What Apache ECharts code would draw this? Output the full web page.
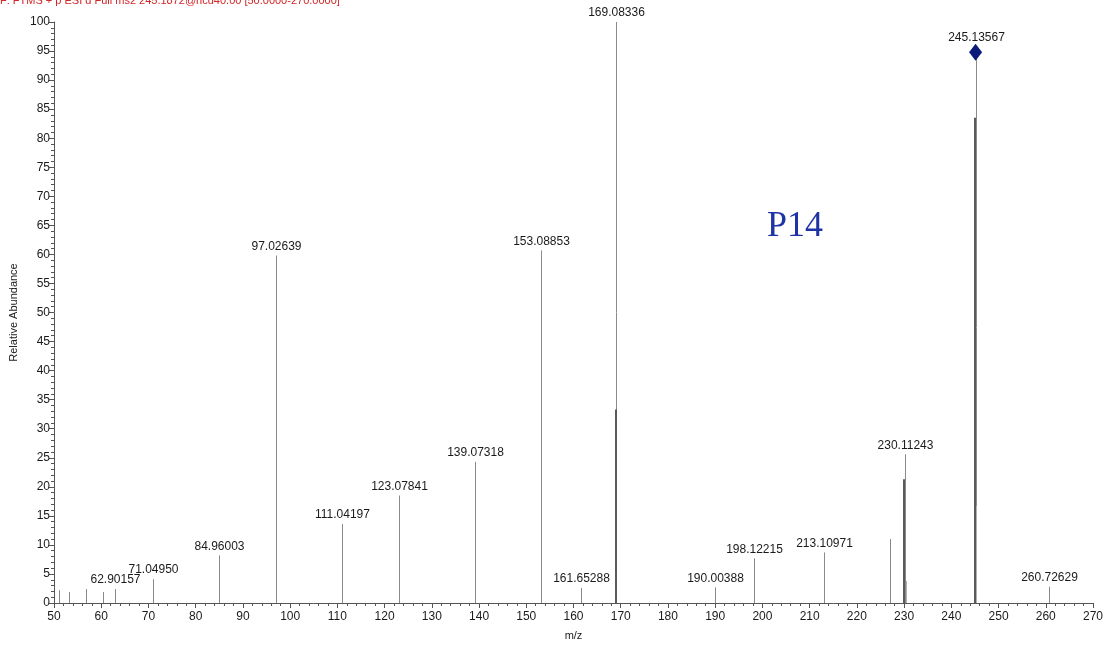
<!DOCTYPE html>
<html>
<head>
<meta charset="utf-8">
<script src="https://cdn.jsdelivr.net/npm/echarts@6/dist/echarts.min.js"></script>
<style>
  html, body { margin: 0; padding: 0; background: #fff; }
  #chart { width: 1110px; height: 646px; }
</style>
</head>
<body>
<div id="chart"></div>
<script>
// Centroid peaks of the MS2 spectrum (m/z, relative abundance %)
const peakMz = [51.0, 53.1, 56.8, 60.4, 62.90157, 71.04950, 84.96003, 97.02639, 111.04197,
  123.07841, 139.07318, 153.08853, 161.65288, 169.08336, 190.00388, 198.12215,
  213.10971, 227.1, 230.11243, 245.13567, 260.72629];
const peakAbundance = [2.2, 1.9, 2.4, 1.9, 2.4, 4.1, 8.2, 59.8, 13.6,
  18.5, 24.3, 60.7, 2.6, 100, 2.7, 7.7,
  8.7, 11.0, 25.6, 94.8, 2.8];
// Which peaks carry an m/z annotation
const peakLabeled = [false, false, false, false, true, true, true, true, true,
  true, true, true, true, true, true, true,
  true, false, true, true, true];

// Overlapping peaks drawn heavier underneath the main sticks
const overlapMz = [169.0, 230.05, 245.1];
const overlapAbundance = [33.3, 21.3, 83.5];
// Faint neighbouring sticks
const faintMz = [230.3, 245.2];
const faintAbundance = [3.8, 16.7];

// Precursor marker
const precursorMz = [245.13567];
const precursorAbundance = [94.8];

const xTicks = { min: 50, max: 270, interval: 10 };
const yTicks = { min: 0, max: 100, interval: 5 };

const FONT = 'Liberation Sans, Arial, sans-serif';

function stickSeries(xs, ys, color, width, labels) {
  return {
    type: 'custom',
    clip: false,
    data: xs.map((x, i) => [x, ys[i], labels ? (labels[i] ? 1 : 0) : 0]),
    renderItem: function (params, api) {
      const x = api.value(0), y = api.value(1);
      const p0 = api.coord([x, 0]);
      const p1 = api.coord([x, y]);
      const px = width % 2 ? Math.round(p0[0]) + 0.5 : Math.round(p0[0]);
      const children = [{
        type: 'line',
        shape: { x1: px, y1: p0[1], x2: px, y2: p1[1] },
        style: { stroke: color, lineWidth: width }
      }];
      if (api.value(2)) {
        // leave room for the precursor diamond above its stick
        const lift = precursorMz.indexOf(x) >= 0 ? 9 : 3;
        children.push({
          type: 'text',
          x: px,
          y: p1[1] - lift,
          style: {
            text: x.toFixed(5),
            align: 'center',
            verticalAlign: 'bottom',
            font: '12px ' + FONT,
            fill: '#1a1a1a'
          }
        });
      }
      return { type: 'group', children: children };
    }
  };
}

const chart = echarts.init(document.getElementById('chart'), null, { renderer: 'canvas' });

chart.setOption({
  animation: false,
  backgroundColor: '#ffffff',
  grid: { left: 54, right: 17, top: 22, bottom: 42, containLabel: false },
  graphic: [
    {
      type: 'text', left: 0, top: -5,
      style: {
        text: 'F: FTMS + p ESI d Full ms2 245.1872@hcd40.00 [50.0000-270.0000]',
        font: '11px ' + FONT, fill: '#d42424'
      }
    },
    {
      type: 'text', left: 767, top: 209,
      style: { text: 'P14', font: '36px Liberation Serif, Times New Roman, serif', fill: '#1f33a6' }
    }
  ],
  xAxis: {
    type: 'value',
    min: xTicks.min, max: xTicks.max, interval: xTicks.interval,
    name: 'm/z', nameLocation: 'middle', nameGap: 27,
    nameTextStyle: { color: '#1a1a1a', fontSize: 11, fontFamily: FONT },
    axisLine: { show: true, lineStyle: { color: '#555', width: 1 } },
    axisTick: { show: true, length: 5, lineStyle: { color: '#555' } },
    minorTick: { show: true, splitNumber: 5, length: 3, lineStyle: { color: '#555' } },
    axisLabel: { color: '#1a1a1a', fontSize: 12, fontFamily: FONT, margin: 8 },
    splitLine: { show: false }
  },
  yAxis: {
    type: 'value',
    min: yTicks.min, max: yTicks.max, interval: yTicks.interval,
    name: 'Relative Abundance', nameLocation: 'middle', nameGap: 29, nameRotate: 90,
    nameTextStyle: { color: '#1a1a1a', fontSize: 11, fontFamily: FONT },
    axisLine: { show: true, lineStyle: { color: '#555', width: 1 } },
    axisTick: { show: true, length: 5, lineStyle: { color: '#555' } },
    minorTick: { show: true, splitNumber: 5, length: 3, lineStyle: { color: '#555' } },
    axisLabel: { color: '#1a1a1a', fontSize: 12, fontFamily: FONT, margin: 4 },
    splitLine: { show: false }
  },
  series: [
    stickSeries(peakMz, peakAbundance, '#8a8a8a', 1, peakLabeled),
    stickSeries(overlapMz, overlapAbundance, '#5a5a5a', 2, null),
    stickSeries(faintMz, faintAbundance, '#b0b0b0', 1, null),
    {
      type: 'scatter',
      data: precursorMz.map((x, i) => [x, precursorAbundance[i]]),
      symbol: 'diamond',
      symbolSize: [13, 17],
      itemStyle: { color: '#0a1a7a', opacity: 1 },
      z: 5
    }
  ]
});
</script>
</body>
</html>
